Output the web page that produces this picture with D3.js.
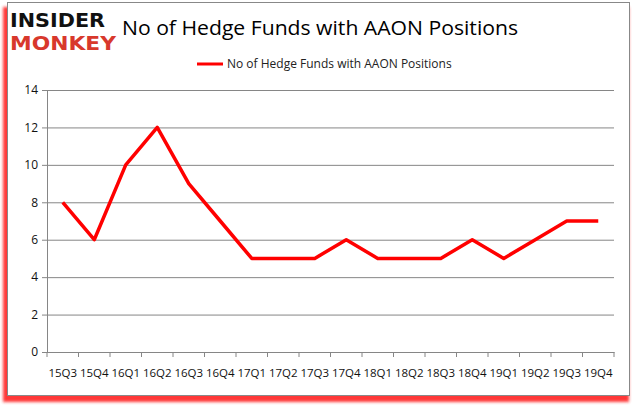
<!DOCTYPE html>
<html>
<head>
<meta charset="utf-8">
<script src="https://cdn.jsdelivr.net/npm/d3@7"></script>
<style>
  body { margin: 0; background: #fff; }
  text { font-family: "Open Sans", "Liberation Sans", sans-serif; }
</style>
</head>
<body>
<div id="chart"></div>
<script>
// Data
const quarters = ["15Q3","15Q4","16Q1","16Q2","16Q3","16Q4","17Q1","17Q2","17Q3","17Q4",
                  "18Q1","18Q2","18Q3","18Q4","19Q1","19Q2","19Q3","19Q4"];
const hedgeFunds = [8, 6, 10, 12, 9, 7, 5, 5, 5, 6, 5, 5, 5, 6, 5, 6, 7, 7];
const yTicks = [0, 2, 4, 6, 8, 10, 12, 14];

const W = 637, H = 408;
const margin = {top: 90, right: 23, bottom: 56, left: 47},
      width = W - margin.left - margin.right,
      height = H - margin.top - margin.bottom;

const svg = d3.select("#chart")
              .append("svg")
              .attr("width", W)
              .attr("height", H);

// Red shadow round the frame (left and bottom)
const defs = svg.append("defs");
const blur = defs.append("filter").attr("id", "shadow")
                 .attr("x", "-5%").attr("y", "-5%").attr("width", "110%").attr("height", "110%");
blur.append("feGaussianBlur").attr("stdDeviation", 1.5);

svg.append("rect")
   .attr("x", 3).attr("y", 7)
   .attr("width", 626).attr("height", 395)
   .attr("fill", "#ff2020")
   .attr("opacity", 0.9)
   .attr("filter", "url(#shadow)");

svg.append("rect")
   .attr("x", 7.5).attr("y", 2.5)
   .attr("width", 622).attr("height", 393)
   .attr("fill", "#fff")
   .attr("stroke", "#888")
   .attr("stroke-width", 1);

// Logo
svg.append("text")
   .attr("x", 10).attr("y", 27)
   .attr("textLength", 95).attr("lengthAdjust", "spacingAndGlyphs")
   .style("font-family", "'DejaVu Sans'")
   .style("font-weight", "bold")
   .style("font-size", "19px")
   .attr("fill", "#111")
   .text("INSIDER");

svg.append("text")
   .attr("x", 10).attr("y", 50)
   .attr("textLength", 106).attr("lengthAdjust", "spacingAndGlyphs")
   .style("font-family", "'DejaVu Sans'")
   .style("font-weight", "bold")
   .style("font-size", "19px")
   .attr("fill", "#d8382c")
   .text("MONKEY");

// Title
svg.append("text")
   .attr("x", 320).attr("y", 35)
   .attr("text-anchor", "middle")
   .attr("textLength", 396).attr("lengthAdjust", "spacingAndGlyphs")
   .style("font-size", "20px")
   .attr("fill", "#000")
   .text("No of Hedge Funds with AAON Positions");

// Legend
svg.append("line")
   .attr("x1", 197).attr("x2", 223)
   .attr("y1", 64).attr("y2", 64)
   .attr("stroke", "#ff0000")
   .attr("stroke-width", 3);

svg.append("text")
   .attr("x", 227).attr("y", 68)
   .style("font-size", "12px")
   .attr("fill", "#222")
   .text("No of Hedge Funds with AAON Positions");

const g = svg.append("g")
             .attr("transform", `translate(${margin.left},${margin.top})`);

// Scales
const xBand = d3.scaleBand().domain(quarters).range([0, width]);
const yScale = d3.scaleLinear().domain([0, 14]).range([height, 0]);

// Gridlines
g.append("g")
 .attr("class", "grid")
 .call(d3.axisLeft(yScale).tickValues(yTicks).tickSize(-width).tickFormat(""))
 .call(s => s.select(".domain").remove())
 .selectAll("line")
 .attr("stroke", "#868686");

// Y axis
const yAxis = g.append("g")
 .call(d3.axisLeft(yScale).tickValues(yTicks).tickSize(5).tickSizeOuter(0).tickPadding(4));
yAxis.select(".domain").attr("stroke", "#868686");
yAxis.selectAll(".tick line").attr("stroke", "#868686");
yAxis.selectAll("text")
     .style("font-size", "12px")
     .attr("fill", "#111");

// X axis: ticks between categories
const xAxis = g.append("g")
 .attr("transform", `translate(0,${height})`)
 .call(d3.axisBottom(xBand).tickSize(0).tickPadding(17));
xAxis.select(".domain").attr("stroke", "#868686");
xAxis.selectAll("text")
     .style("font-size", "11.5px")
     .attr("fill", "#111");

g.append("g")
 .selectAll("line")
 .data(quarters.concat([null]))
 .enter()
 .append("line")
 .attr("x1", (d, i) => i * xBand.step())
 .attr("x2", (d, i) => i * xBand.step())
 .attr("y1", height)
 .attr("y2", height + 5)
 .attr("stroke", "#868686");

// Line
const line = d3.line()
               .x((d, i) => xBand(quarters[i]) + xBand.bandwidth() / 2)
               .y(d => yScale(d));

g.append("path")
 .datum(hedgeFunds)
 .attr("fill", "none")
 .attr("stroke", "#ff0000")
 .attr("stroke-width", 3.5)
 .attr("stroke-linejoin", "round")
 .attr("d", line);
</script>
</body>
</html>
